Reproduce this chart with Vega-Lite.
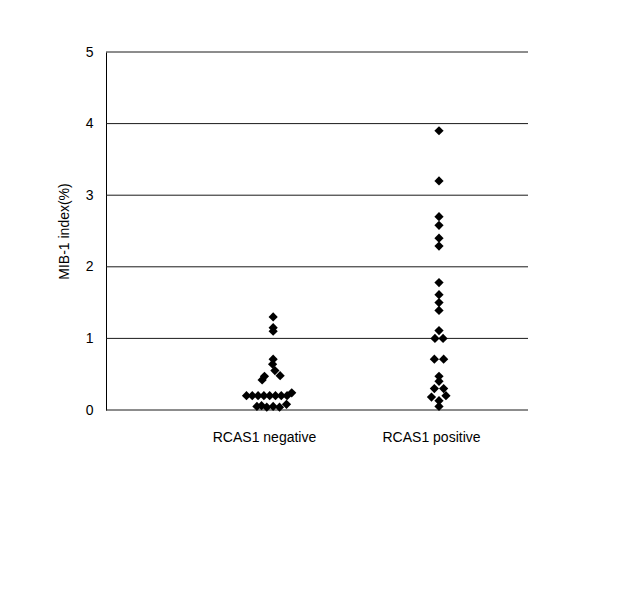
{
  "$schema": "https://vega.github.io/schema/vega-lite/v6.json",
  "width": 422,
  "height": 358,
  "autosize": {"type": "none"},
  "padding": {"left": 106, "top": 52, "right": 102, "bottom": 200},
  "background": "white",
  "config": {"view": {"stroke": null}, "font": "Liberation Sans"},
  "datasets": {
    "grid": [{"v": 0}, {"v": 1}, {"v": 2}, {"v": 3}, {"v": 4}, {"v": 5}],
    "points": [
      {"group": "RCAS1 negative", "mib": 1.3, "slot": 0.2},
      {"group": "RCAS1 negative", "mib": 1.15, "slot": 0.2},
      {"group": "RCAS1 negative", "mib": 1.1, "slot": 0.2},
      {"group": "RCAS1 negative", "mib": 0.71, "slot": 0.2},
      {"group": "RCAS1 negative", "mib": 0.64, "slot": 0.1},
      {"group": "RCAS1 negative", "mib": 0.55, "slot": 0.5},
      {"group": "RCAS1 negative", "mib": 0.48, "slot": 1.4},
      {"group": "RCAS1 negative", "mib": 0.47, "slot": -1.3},
      {"group": "RCAS1 negative", "mib": 0.42, "slot": -1.7},
      {"group": "RCAS1 negative", "mib": 0.2, "slot": -4.4},
      {"group": "RCAS1 negative", "mib": 0.2, "slot": -3.4},
      {"group": "RCAS1 negative", "mib": 0.2, "slot": -2.4},
      {"group": "RCAS1 negative", "mib": 0.2, "slot": -1.4},
      {"group": "RCAS1 negative", "mib": 0.2, "slot": -0.4},
      {"group": "RCAS1 negative", "mib": 0.2, "slot": 0.6},
      {"group": "RCAS1 negative", "mib": 0.2, "slot": 1.6},
      {"group": "RCAS1 negative", "mib": 0.2, "slot": 2.6},
      {"group": "RCAS1 negative", "mib": 0.24, "slot": 3.4},
      {"group": "RCAS1 negative", "mib": 0.05, "slot": -2.6},
      {"group": "RCAS1 negative", "mib": 0.06, "slot": -1.8},
      {"group": "RCAS1 negative", "mib": 0.04, "slot": -0.9},
      {"group": "RCAS1 negative", "mib": 0.05, "slot": 0.2},
      {"group": "RCAS1 negative", "mib": 0.04, "slot": 1.3},
      {"group": "RCAS1 negative", "mib": 0.08, "slot": 2.5},
      {"group": "RCAS1 positive", "mib": 3.9, "slot": 0},
      {"group": "RCAS1 positive", "mib": 3.2, "slot": 0},
      {"group": "RCAS1 positive", "mib": 2.7, "slot": 0},
      {"group": "RCAS1 positive", "mib": 2.58, "slot": 0},
      {"group": "RCAS1 positive", "mib": 2.4, "slot": 0},
      {"group": "RCAS1 positive", "mib": 2.29, "slot": 0},
      {"group": "RCAS1 positive", "mib": 1.78, "slot": 0},
      {"group": "RCAS1 positive", "mib": 1.61, "slot": 0},
      {"group": "RCAS1 positive", "mib": 1.5, "slot": 0},
      {"group": "RCAS1 positive", "mib": 1.39, "slot": 0},
      {"group": "RCAS1 positive", "mib": 1.11, "slot": 0},
      {"group": "RCAS1 positive", "mib": 1.0, "slot": -0.7},
      {"group": "RCAS1 positive", "mib": 1.0, "slot": 0.7},
      {"group": "RCAS1 positive", "mib": 0.71, "slot": -0.8},
      {"group": "RCAS1 positive", "mib": 0.71, "slot": 0.8},
      {"group": "RCAS1 positive", "mib": 0.47, "slot": 0},
      {"group": "RCAS1 positive", "mib": 0.4, "slot": 0},
      {"group": "RCAS1 positive", "mib": 0.3, "slot": -0.8},
      {"group": "RCAS1 positive", "mib": 0.3, "slot": 0.8},
      {"group": "RCAS1 positive", "mib": 0.18, "slot": -1.3},
      {"group": "RCAS1 positive", "mib": 0.13, "slot": 0},
      {"group": "RCAS1 positive", "mib": 0.2, "slot": 1.2},
      {"group": "RCAS1 positive", "mib": 0.05, "slot": 0}
    ]
  },
  "layer": [
    {
      "data": {"name": "grid"},
      "mark": {"type": "rule", "color": "#1a1a1a", "strokeWidth": 1},
      "encoding": {
        "y": {
          "field": "v",
          "type": "quantitative",
          "scale": {"domain": [0, 5]},
          "axis": {"values": [0, 1, 2, 3, 4, 5], "format": "d", "grid": false, "title": "MIB-1 index(%)", "titleFontSize": 14, "titleFontWeight": "normal", "titleColor": "black", "labelFontSize": 14, "labelColor": "black", "ticks": false, "labelPadding": 13, "domainColor": "black", "titlePadding": 14}
        }
      }
    },
    {
      "data": {"name": "points"},
      "mark": {"type": "point", "shape": "diamond", "filled": true, "color": "black", "size": 85, "opacity": 1},
      "encoding": {
        "x": {
          "field": "group",
          "type": "nominal",
          "scale": {"type": "point", "domain": ["RCAS1 negative", "RCAS1 positive"], "range": [166, 333], "padding": 0},
          "axis": {"title": null, "domain": false, "ticks": false, "grid": false, "labelAngle": 0, "labelFontSize": 14, "labelPadding": 20, "labelOffset": -8, "labelColor": "black"}
        },
        "xOffset": {"field": "slot", "type": "quantitative", "scale": {"domain": [-5, 5], "range": [-29, 29]}},
        "y": {"field": "mib", "type": "quantitative"}
      }
    }
  ]
}
